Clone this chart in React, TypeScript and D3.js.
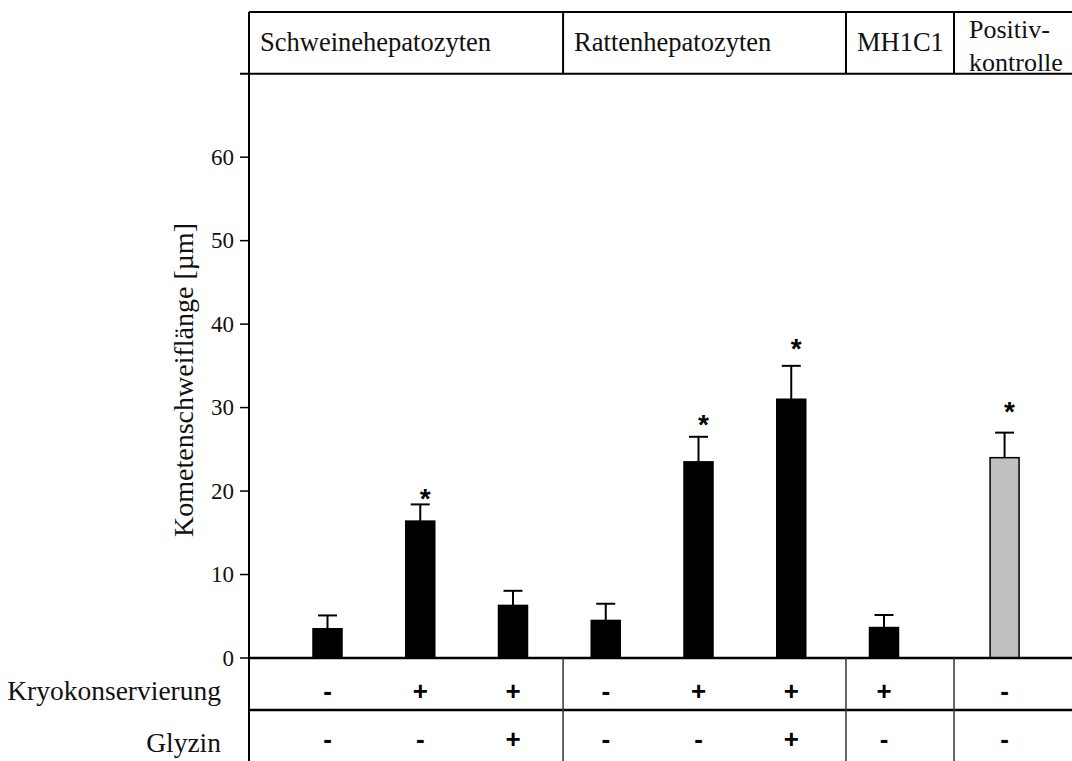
import React from "react";
import * as d3 from "d3";

// ---- data ----
const groupLabels: string[][] = [
  ["Schweinehepatozyten"],
  ["Rattenhepatozyten"],
  ["MH1C1"],
  ["Positiv-", "kontrolle"],
];
const barGroup = [0, 0, 0, 1, 1, 1, 2, 3];
const means = [3.5, 16.4, 6.3, 4.5, 23.5, 31.0, 3.65, 24.0];
const errors = [1.6, 2.0, 1.75, 2.0, 3.0, 4.0, 1.5, 3.0];
const starLevels: (number | null)[] = [null, 19.8, null, null, 28.6, 37.7, null, 30.2];
const kryo = ["-", "+", "+", "-", "+", "+", "+", "-"];
const glyzin = ["-", "-", "+", "-", "-", "+", "-", "-"];
const rowLabels = ["Kryokonservierung", "Glyzin"];
const yTicks = [0, 10, 20, 30, 40, 50, 60];
const yTitle = "Kometenschweiflänge [µm]";

// ---- layout ----
const W = 1072;
const H = 761;
const axisX = 249;
const baseY = 658;
const headerTop = 12;
const headerBottom = 73.7;
const rowSep = 710;
const yMax = 70;
const barW = 29;
const slotOf = (i: number) => (i < 7 ? i : 7.3);
const dividerSlots = [2.54, 5.59, 6.755];
const serif = "'Liberation Serif', 'Times New Roman', serif";
const sans = "'Liberation Sans', Arial, sans-serif";

export default function App() {
  const x = d3.scaleLinear().domain([0, 7]).range([327.5, 976.75]);
  const y = d3.scaleLinear().domain([0, yMax]).range([baseY, headerBottom]);
  const dividers = dividerSlots.map((s) => x(s));
  const groupStarts = [axisX, ...dividers];

  return (
    <svg
      width={W}
      height={H}
      style={{ position: "absolute", left: 0, top: 0, background: "#fff" }}
    >
      {/* header box */}
      <line x1={axisX} x2={W} y1={headerTop} y2={headerTop} stroke="#000" strokeWidth={2} />
      <line x1={axisX - 9} x2={W} y1={headerBottom} y2={headerBottom} stroke="#000" strokeWidth={2} />
      {groupStarts.map((gx, i) => (
        <line key={"hd" + i} x1={gx} x2={gx} y1={headerTop} y2={headerBottom} stroke="#000" strokeWidth={2} />
      ))}
      {groupLabels.map((lines, gi) =>
        lines.length === 1 ? (
          <text key={"gl" + gi} x={groupStarts[gi] + 11} y={51} fontFamily={serif} fontSize={26.5} fill="#111">
            {lines[0]}
          </text>
        ) : (
          <g key={"gl" + gi}>
            <text x={groupStarts[gi] + 15} y={38} fontFamily={serif} fontSize={26} fill="#111">
              {lines[0]}
            </text>
            <text x={groupStarts[gi] + 15} y={71} fontFamily={serif} fontSize={26} fill="#111">
              {lines[1]}
            </text>
          </g>
        )
      )}

      {/* y axis */}
      <line x1={axisX} x2={axisX} y1={headerBottom} y2={H} stroke="#000" strokeWidth={2} />
      {yTicks.map((t) => (
        <g key={"t" + t}>
          <line x1={axisX - 9} x2={axisX} y1={y(t)} y2={y(t)} stroke="#000" strokeWidth={1.5} />
          <text
            x={axisX - 15}
            y={y(t) + 7.5}
            textAnchor="end"
            fontFamily={serif}
            fontSize={23}
            fill="#111"
          >
            {t}
          </text>
        </g>
      ))}
      <text
        transform={`translate(193,${380}) rotate(-90)`}
        textAnchor="middle"
        fontFamily={serif}
        fontSize={28}
        fill="#111"
      >
        {yTitle}
      </text>

      {/* bars */}
      {means.map((m, i) => {
        const cx = x(slotOf(i));
        const gray = barGroup[i] === 3;
        return (
          <g key={"b" + i}>
            <line x1={cx} x2={cx} y1={y(m)} y2={y(m + errors[i])} stroke="#000" strokeWidth={2} />
            <line x1={cx - 9.5} x2={cx + 9.5} y1={y(m + errors[i])} y2={y(m + errors[i])} stroke="#000" strokeWidth={2} />
            <rect
              x={cx - barW / 2}
              y={y(m)}
              width={barW}
              height={y(0) - y(m)}
              fill={gray ? "#c0c0c0" : "#000"}
              stroke="#000"
              strokeWidth={1.5}
            />
            {starLevels[i] !== null && (
              <text
                x={cx + 5}
                y={y(starLevels[i] as number) + 15}
                textAnchor="middle"
                fontFamily={sans}
                fontWeight="bold"
                fontSize={28}
                fill="#000"
              >
                *
              </text>
            )}
          </g>
        );
      })}

      {/* baseline */}
      <line x1={axisX} x2={W} y1={baseY} y2={baseY} stroke="#000" strokeWidth={2.5} />

      {/* table */}
      <line x1={axisX} x2={W} y1={rowSep} y2={rowSep} stroke="#000" strokeWidth={2.5} />
      {dividers.map((dx, i) => (
        <line key={"td" + i} x1={dx} x2={dx} y1={baseY} y2={H} stroke="#333" strokeWidth={1.5} />
      ))}
      {rowLabels.map((r, ri) => (
        <text
          key={"rl" + ri}
          x={221}
          y={ri === 0 ? 700 : 752}
          textAnchor="end"
          fontFamily={serif}
          fontSize={27.5}
          fill="#111"
        >
          {r}
        </text>
      ))}
      {[kryo, glyzin].map((row, ri) =>
        row.map((s, i) => (
          <text
            key={"s" + ri + "-" + i}
            x={x(slotOf(i))}
            y={ri === 0 ? 700 : 748}
            textAnchor="middle"
            fontFamily={sans}
            fontWeight="bold"
            fontSize={26}
            fill="#000"
          >
            {s}
          </text>
        ))
      )}
    </svg>
  );
}
